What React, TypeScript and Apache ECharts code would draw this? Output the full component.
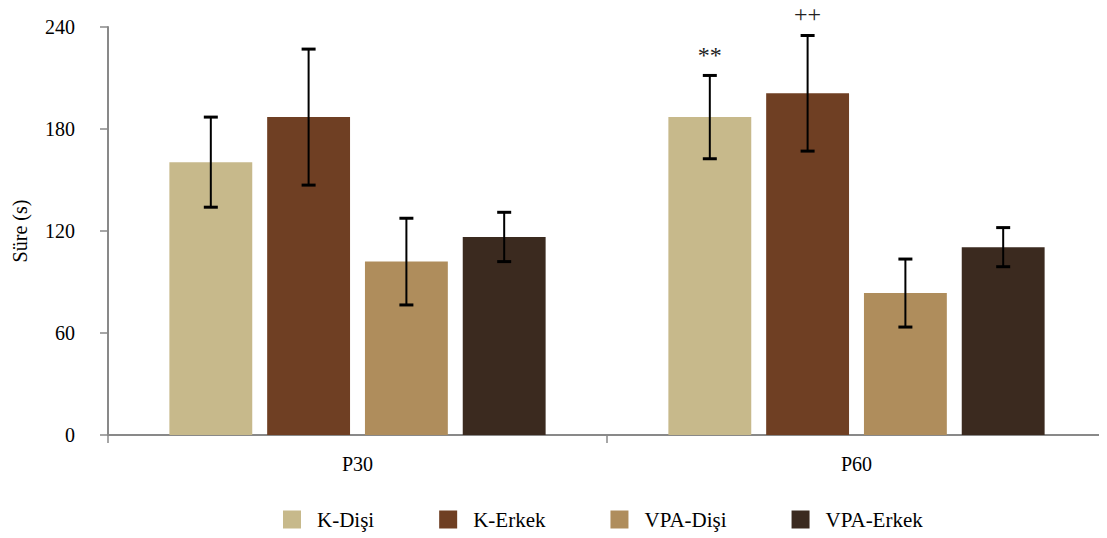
import React, { useEffect, useRef } from "react";
import * as echarts from "echarts";

const categories = ["P30", "P60"];
const seriesNames = ["K-Dişi", "K-Erkek", "VPA-Dişi", "VPA-Erkek"];
const colors = ["#C7B98B", "#6F3F23", "#AF8D5C", "#3B2A1F"];
const kDisi = [160.5, 187];
const kErkek = [187, 201];
const vpaDisi = [102, 83.5];
const vpaErkek = [116.5, 110.5];
const kDisiErr = [26.5, 24.5];
const kErkekErr = [40, 34];
const vpaDisiErr = [25.5, 20];
const vpaErkekErr = [14.5, 11.5];
const kDisiMark = ["", "**"];
const kErkekMark = ["", "++"];
const vpaDisiMark = ["", ""];
const vpaErkekMark = ["", ""];
const yTicks = [0, 60, 120, 180, 240];

const values = [kDisi, kErkek, vpaDisi, vpaErkek];
const errs = [kDisiErr, kErkekErr, vpaDisiErr, vpaErkekErr];
const marks = [kDisiMark, kErkekMark, vpaDisiMark, vpaErkekMark];

const CAT_GAP = 0.246;
const BAR_GAP = 0.18;
const FONT = "Liberation Serif";

export default function App() {
  const ref = useRef<HTMLDivElement>(null);
  useEffect(() => {
    if (!ref.current) return;
    const chart = echarts.init(ref.current, undefined, { renderer: "svg" });
    const barSeries = seriesNames.map((name, i) => ({
      name,
      type: "bar",
      data: values[i],
      itemStyle: { color: colors[i] },
      barGap: BAR_GAP * 100 + "%",
      barCategoryGap: CAT_GAP * 100 + "%",
    }));
    const errSeries = seriesNames.map((name, i) => ({
      type: "custom",
      name: name + "-err",
      z: 10,
      data: categories.map((_, j) => [j, values[i][j], errs[i][j]]),
      renderItem: (params: any, api: any) => {
        const cat = api.value(0);
        const v = api.value(1);
        const e = api.value(2);
        const mark = marks[i][params.dataIndex];
        const catW = api.size([1, 0])[0];
        const groupW = catW * (1 - CAT_GAP);
        const bw = groupW / (4 + 3 * BAR_GAP);
        const off = (i - 1.5) * bw * (1 + BAR_GAP);
        const top = api.coord([cat, v + e]);
        const bot = api.coord([cat, v - e]);
        const x = top[0] + off;
        const cap = 7;
        const children: any[] = [
          { type: "line", shape: { x1: x, y1: top[1], x2: x, y2: bot[1] }, style: { stroke: "#000", lineWidth: 2 } },
          { type: "line", shape: { x1: x - cap, y1: top[1], x2: x + cap, y2: top[1] }, style: { stroke: "#000", lineWidth: 3 } },
          { type: "line", shape: { x1: x - cap, y1: bot[1], x2: x + cap, y2: bot[1] }, style: { stroke: "#000", lineWidth: 3 } },
        ];
        if (mark) {
          children.push({
            type: "text",
            x: x,
            y: top[1] - (mark === "**" ? 20 : 22),
            style: {
              text: mark,
              fill: "#222",
              fontSize: 24,
              fontFamily: FONT,
              align: "center",
              verticalAlign: "middle",
            },
          });
        }
        return { type: "group", children };
      },
    }));
    chart.setOption({
      animation: false,
      textStyle: { fontFamily: FONT },
      grid: { left: 108, right: 1, top: 27, bottom: 103, containLabel: false },
      legend: {
        data: seriesNames,
        top: 504,
        left: 278,
        itemWidth: 18,
        itemHeight: 18,
        itemGap: 65,
        icon: "rect",
        textStyle: { fontFamily: FONT, fontSize: 21, color: "#000", padding: [0, 0, 0, 11] },
      },
      xAxis: {
        type: "category",
        data: categories,
        axisLine: { lineStyle: { color: "#898989", width: 2 } },
        axisTick: { show: true, length: 8, lineStyle: { color: "#898989", width: 1.5 } },
        axisLabel: { fontFamily: FONT, fontSize: 20, color: "#000", margin: 19 },
      },
      yAxis: {
        type: "value",
        min: 0,
        max: 240,
        interval: 60,
        name: "Süre (s)",
        nameLocation: "middle",
        nameGap: 78,
        nameTextStyle: { fontFamily: FONT, fontSize: 20, color: "#000" },
        splitLine: { show: false },
        axisLine: { show: true, lineStyle: { color: "#898989", width: 2 } },
        axisTick: { show: true, length: 8, lineStyle: { color: "#898989", width: 1.5 } },
        axisLabel: { fontFamily: FONT, fontSize: 20, color: "#000", margin: 33, formatter: (v: number) => (yTicks.includes(v) ? String(v) : "") },
      },
      series: [...barSeries, ...errSeries],
    } as any);
    return () => chart.dispose();
  }, []);
  return <div ref={ref} style={{ width: 1107, height: 538, marginLeft: -8, marginTop: -8 }} />;
}
